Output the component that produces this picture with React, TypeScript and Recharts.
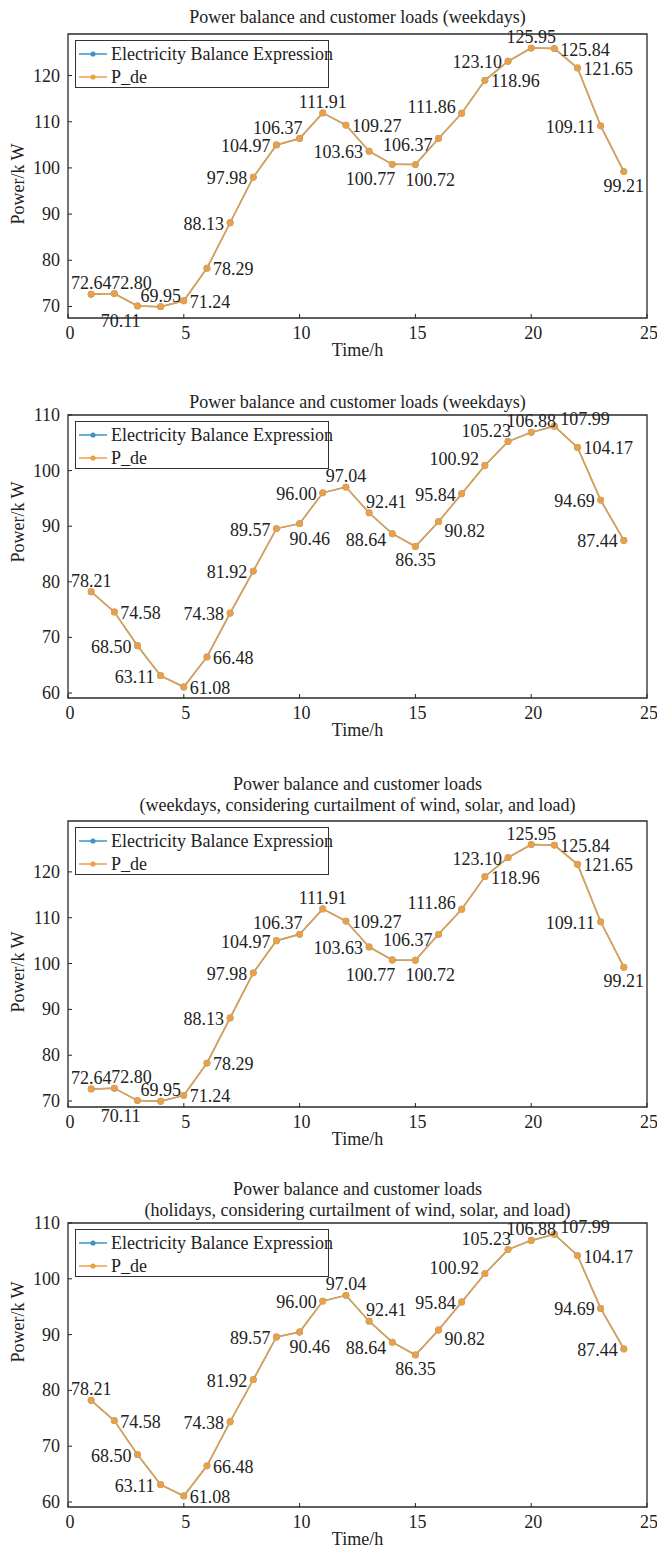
import React from 'react';
import { LineChart, Line, XAxis, YAxis, ReferenceArea, Legend } from 'recharts';

// ---------- data ----------
const hours = [1, 2, 3, 4, 5, 6, 7, 8, 9, 10, 11, 12, 13, 14, 15, 16, 17, 18, 19, 20, 21, 22, 23, 24];

const weekdayLoad = [
  72.64, 72.8, 70.11, 69.95, 71.24, 78.29, 88.13, 97.98, 104.97, 106.37, 111.91, 109.27,
  103.63, 100.77, 100.72, 106.37, 111.86, 118.96, 123.1, 125.95, 125.84, 121.65, 109.11, 99.21,
];

const holidayLoad = [
  78.21, 74.58, 68.5, 63.11, 61.08, 66.48, 74.38, 81.92, 89.57, 90.46, 96.0, 97.04,
  92.41, 88.64, 86.35, 90.82, 95.84, 100.92, 105.23, 106.88, 107.99, 104.17, 94.69, 87.44,
];

const xTicks = [0, 5, 10, 15, 20, 25];
const weekdayYTicks = [70, 80, 90, 100, 110, 120];
const holidayYTicks = [60, 70, 80, 90, 100, 110];

const seriesNames = ['Electricity Balance Expression', 'P_de'];

const title1 = ['Power balance and customer loads (weekdays)'];
const title2 = ['Power balance and customer loads (weekdays)'];
const title3 = ['Power balance and customer loads', '(weekdays, considering curtailment of wind, solar, and load)'];
const title4 = ['Power balance and customer loads', '(holidays, considering curtailment of wind, solar, and load)'];

const xLabel = 'Time/h';
const yLabel = 'Power/k W';

// label placement keywords (style)
const weekdayPlacement = [
  't', 'tr', 'bl', 't', 'r', 'r', 'l', 'l', 'l', 'tl', 't', 'r',
  'l', 'bl', 'br', 'lb', 'lt', 'r', 'l', 't', 'r', 'r', 'l', 'b',
];
const holidayPlacement = [
  't', 'r', 'l', 'l', 'r', 'r', 'l', 'l', 'l', 'br', 'l', 't',
  'tr', 'lb', 'b', 'rb', 'l', 'lt', 'tl', 't', 'rt', 'r', 'l', 'l',
];

// ---------- style ----------
const FONT = "'Liberation Serif', 'Times New Roman', Times, serif";
const BLUE = '#3f93c9';
const ORANGE = '#EC9F45';
const INK = '#222';
const CHART_W = 657;
const PLOT_LEFT = 68;
const PLOT_RIGHT = 647;
const textStyle = { fontFamily: FONT, fontSize: 18 };

const placementMap: Record<string, [string, number, number]> = {
  l: ['end', -6, 1],
  r: ['start', 6, 1],
  t: ['middle', 0, -11],
  b: ['middle', 0, 14],
  tl: ['end', 3, -11],
  tr: ['start', -3, -11],
  bl: ['end', 3, 15],
  br: ['start', -10, 15],
  rb: ['start', 6, 9],
  rt: ['start', 6, -7],
  lt: ['end', -6, -6],
  lb: ['end', -6, 6],
};

type Panel = {
  title: string[];
  titleY: number[];
  boxTop: number;
  boxBottom: number;
  domain: [number, number];
  yTicks: number[];
  values: number[];
  placement: string[];
  yLabelY: number;
};

const panels: Panel[] = [
  { title: title1, titleY: [17], boxTop: 34, boxBottom: 318, domain: [67.5, 129], yTicks: weekdayYTicks, values: weekdayLoad, placement: weekdayPlacement, yLabelY: 184 },
  { title: title2, titleY: [402], boxTop: 415, boxBottom: 698, domain: [59.1, 110], yTicks: holidayYTicks, values: holidayLoad, placement: holidayPlacement, yLabelY: 522 },
  { title: title3, titleY: [784, 805], boxTop: 821, boxBottom: 1107, domain: [68.7, 131.1], yTicks: weekdayYTicks, values: weekdayLoad, placement: weekdayPlacement, yLabelY: 972 },
  { title: title4, titleY: [1189, 1210], boxTop: 1223, boxBottom: 1507, domain: [59.1, 110], yTicks: holidayYTicks, values: holidayLoad, placement: holidayPlacement, yLabelY: 1322 },
];

const XTick = (props: any) => {
  const { x, y, payload } = props;
  return (
    <g>
      <line x1={x} x2={x} y1={y} y2={y - 4} stroke={INK} strokeWidth={1} />
      <text x={x + 2} y={y + 15} textAnchor="middle" dominantBaseline="central" style={textStyle} fill={INK}>
        {payload.value}
      </text>
    </g>
  );
};

const YTick = (props: any) => {
  const { x, y, payload } = props;
  return (
    <g>
      <line x1={x} x2={x + 4} y1={y} y2={y} stroke={INK} strokeWidth={1} />
      <text x={x - 8} y={y} textAnchor="end" dominantBaseline="central" style={textStyle} fill={INK}>
        {payload.value}
      </text>
    </g>
  );
};

const LegendBox = (props: any) => {
  const payload = props.payload && props.payload.length ? props.payload : seriesNames.map((n, i) => ({ value: n, color: i === 0 ? BLUE : ORANGE }));
  return (
    <div
      style={{
        width: 254,
        height: 48,
        border: '1.3px solid #333',
        background: '#fff',
        boxSizing: 'border-box',
        position: 'relative',
        fontFamily: FONT,
        fontSize: 18,
        color: INK,
      }}
    >
      {payload.map((entry: any, i: number) => (
        <div key={i} style={{ position: 'absolute', left: 0, top: 2 + i * 23, height: 22, lineHeight: '22px', whiteSpace: 'nowrap' }}>
          <svg width={34} height={22} style={{ position: 'absolute', left: 2, top: 0 }}>
            <line x1={1} x2={29} y1={11} y2={11} stroke={entry.color} strokeWidth={1.5} />
            <circle cx={15} cy={11} r={2.6} fill={entry.color} />
          </svg>
          <span style={{ position: 'absolute', left: 35, top: 0 }}>{entry.value}</span>
        </div>
      ))}
    </div>
  );
};

const ChartPanel = ({ p }: { p: Panel }) => {
  const top = p.boxTop - 10;
  const xAxisH = 45;
  const height = p.boxBottom - p.boxTop + 10 + xAxisH;
  const data = hours.map((h, i) => ({ hour: h, balance: p.values[i], pde: p.values[i] }));
  const renderLabel = (lp: any) => {
    const { x, y, index, value } = lp;
    const key = p.placement[index] || 't';
    const [anchor, dx, dy] = placementMap[key];
    return (
      <text
        key={`lbl-${index}`}
        x={x + dx}
        y={y + dy}
        textAnchor={anchor as any}
        dominantBaseline="central"
        style={textStyle}
        fill={INK}
      >
        {Number(value).toFixed(2)}
      </text>
    );
  };
  return (
    <div style={{ position: 'absolute', left: 0, top: 0, width: CHART_W, height: 1546, pointerEvents: 'none' }}>
      {p.title.map((t, i) => (
        <div
          key={i}
          style={{
            position: 'absolute',
            left: PLOT_LEFT - 40,
            width: PLOT_RIGHT - PLOT_LEFT + 80,
            top: p.titleY[i] - 11,
            height: 22,
            lineHeight: '22px',
            textAlign: 'center',
            fontFamily: FONT,
            fontSize: 18,
            color: INK,
            whiteSpace: 'nowrap',
          }}
        >
          {t}
        </div>
      ))}
      <div
        style={{
          position: 'absolute',
          left: 18 - 60,
          top: p.yLabelY - 11,
          width: 120,
          height: 22,
          lineHeight: '22px',
          textAlign: 'center',
          transform: 'rotate(-90deg)',
          fontFamily: FONT,
          fontSize: 18,
          color: INK,
          whiteSpace: 'nowrap',
        }}
      >
        {yLabel}
      </div>
      <div
        style={{
          position: 'absolute',
          left: PLOT_LEFT,
          width: PLOT_RIGHT - PLOT_LEFT,
          top: p.boxBottom + 32 - 11,
          height: 22,
          lineHeight: '22px',
          textAlign: 'center',
          fontFamily: FONT,
          fontSize: 18,
          color: INK,
        }}
      >
        {xLabel}
      </div>
      <div style={{ position: 'absolute', left: 0, top }}>
        <LineChart width={CHART_W} height={height} data={data} margin={{ top: 10, right: CHART_W - PLOT_RIGHT, bottom: 0, left: 0 }} style={{ fontFamily: FONT }}>
          <XAxis
            dataKey="hour"
            type="number"
            domain={[0, 25]}
            ticks={xTicks}
            allowDataOverflow
            height={xAxisH}
            axisLine={false}
            tickLine={false}
            tickSize={0}
            tickMargin={0}
            tick={<XTick />}
            interval={0}
          />
          <YAxis
            type="number"
            domain={p.domain}
            ticks={p.yTicks}
            allowDataOverflow
            width={PLOT_LEFT}
            axisLine={false}
            tickLine={false}
            tickSize={0}
            tickMargin={0}
            tick={<YTick />}
            interval={0}
          />
          <ReferenceArea x1={0} x2={25} y1={p.domain[0]} y2={p.domain[1]} fill="none" fillOpacity={0} stroke="#2a2a2a" strokeWidth={1.3} />
          <Legend
            layout="vertical"
            align="center"
            verticalAlign="middle"
            wrapperStyle={{ left: 75, top: 16, width: 254, height: 48 }}
            content={<LegendBox />}
          />
          <Line
            name={seriesNames[0]}
            dataKey="balance"
            stroke={BLUE}
            strokeWidth={1.5}
            dot={{ r: 3.4, fill: BLUE, stroke: BLUE, strokeWidth: 0 }}
            isAnimationActive={false}
          />
          <Line
            name={seriesNames[1]}
            dataKey="pde"
            stroke={ORANGE}
            strokeWidth={1.5}
            dot={{ r: 3.4, fill: ORANGE, stroke: ORANGE, strokeWidth: 0 }}
            label={renderLabel}
            isAnimationActive={false}
          />
        </LineChart>
      </div>
    </div>
  );
}

export default function App() {
  return (
    <div style={{ position: 'absolute', left: 0, top: 0, width: CHART_W, height: 1546, background: '#fff', fontFamily: FONT }}>
      {panels.map((p, i) => (
        <ChartPanel key={i} p={p} />
      ))}
    </div>
  );
}
